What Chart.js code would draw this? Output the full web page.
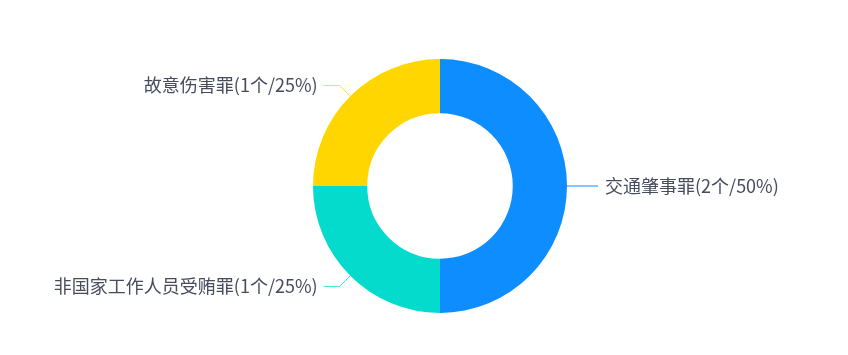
<!DOCTYPE html>
<html lang="zh">
<head>
    <meta charset="UTF-8">
    <title>罪名分布</title>
    <style>
        html, body { margin: 0; padding: 0; background: #fff; }
        #wrap { width: 848px; height: 355px; }
    </style>
</head>
<body>
    <div id="wrap"><canvas id="crimeChart" width="848" height="355"></canvas></div>

    <script src="https://cdn.jsdelivr.net/npm/chart.js@4.4.1/dist/chart.umd.min.js"></script>
    <script>
        // data
        var categories = ['交通肇事罪', '非国家工作人员受贿罪', '故意伤害罪'];
        var counts = [2, 1, 1];
        var colors = ['#0e8dff', '#05dbcd', '#ffd600'];

        var total = counts.reduce(function(a, b) { return a + b; }, 0);

        // ECharts-like outside labels with two-segment leader lines
        var leaderLabels = {
            id: 'leaderLabels',
            afterDatasetsDraw: function(chart) {
                var ctx = chart.ctx;
                var meta = chart.getDatasetMeta(0);
                ctx.save();
                ctx.font = '18px "Noto Sans CJK SC", "Noto Sans", sans-serif';
                ctx.textBaseline = 'middle';
                meta.data.forEach(function(arc, i) {
                    var mid = (arc.startAngle + arc.endAngle) / 2;
                    var cos = Math.cos(mid), sin = Math.sin(mid);
                    var r = arc.outerRadius;
                    var x0 = arc.x + cos * r, y0 = arc.y + sin * r;
                    var x1 = arc.x + cos * (r + 15), y1 = arc.y + sin * (r + 15);
                    var right = cos >= 0;
                    var x2 = x1 + (right ? 16 : -16);

                    ctx.strokeStyle = colors[i];
                    ctx.globalAlpha = right ? 1 : 0.8;
                    ctx.lineWidth = 1;
                    ctx.beginPath();
                    ctx.moveTo(x0, y0);
                    ctx.lineTo(x1, y1);
                    ctx.lineTo(x2, y1);
                    ctx.stroke();
                    ctx.globalAlpha = 1;

                    var pct = Math.round(counts[i] / total * 100);
                    var text = categories[i] + '(' + counts[i] + '个/' + pct + '%)';
                    ctx.fillStyle = '#464c5e';
                    ctx.textAlign = right ? 'left' : 'right';
                    ctx.fillText(text, x2 + (right ? 7 : -6), y1);
                });
                ctx.restore();
            }
        };

        new Chart(document.getElementById('crimeChart'), {
            type: 'doughnut',
            data: {
                labels: categories,
                datasets: [{
                    data: counts,
                    backgroundColor: colors,
                    borderWidth: 0,
                    hoverOffset: 0
                }]
            },
            options: {
                responsive: false,
                animation: false,
                cutout: '57.3%',
                layout: { padding: { top: 59, bottom: 42, left: 32, right: 0 } },
                plugins: {
                    legend: { display: false },
                    tooltip: { enabled: false }
                }
            },
            plugins: [leaderLabels]
        });
    </script>
</body>
</html>
